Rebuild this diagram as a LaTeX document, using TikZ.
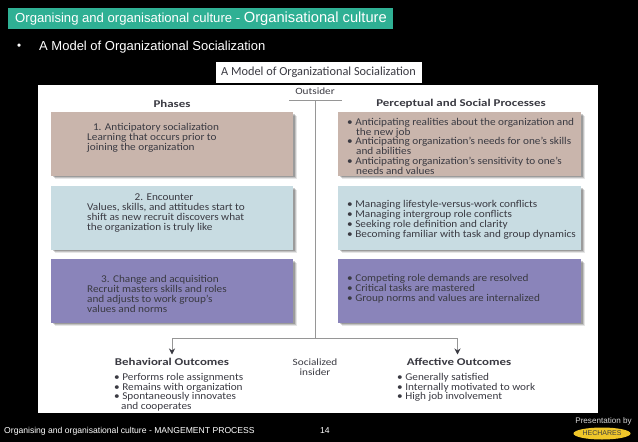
\documentclass[tikz,border=0pt]{standalone}
\usepackage{fontspec}
\setmainfont{Liberation Sans}
\newfontfamily\figfont[FakeStretch=1.08]{Carlito}
\newfontfamily\fighead[FakeStretch=1.24]{Carlito}
\newfontfamily\figsmall[FakeStretch=1.17]{Carlito}
\newfontfamily\titlefont{Carlito}
\usetikzlibrary{shadows,arrows.meta,shapes.geometric}
\definecolor{teal1}{HTML}{2FB094}
\definecolor{rosebox}{HTML}{C9B5AC}
\definecolor{bluebox}{HTML}{C8DCE2}
\definecolor{purplebox}{HTML}{8A84BA}
\definecolor{figtext}{HTML}{3A3A42}
\definecolor{linegray}{HTML}{969696}
\definecolor{logoyellow}{HTML}{EFC62A}
\tikzset{
  x=1pt,y=-1pt,
  phase/.style={anchor=north west,inner sep=0pt,minimum height=63.5pt,fill=#1,
    general shadow={shadow xshift=3.5pt,shadow yshift=-3.5pt,fill=black,opacity=.1},
    general shadow={shadow xshift=2.5pt,shadow yshift=-2.5pt,fill=black,opacity=.15},
    general shadow={shadow xshift=1.5pt,shadow yshift=-1.5pt,fill=black,opacity=.2}},
  ftext/.style={anchor=north west,inner sep=0pt,font=\figfont\fontsize{10.4}{9.75}\selectfont,text=figtext,align=left},
  fhead/.style={inner sep=0pt,font=\fighead\bfseries\fontsize{10.4}{10}\selectfont,text=figtext},
  conn/.style={draw=linegray,line width=.9pt},
  white1/.style={inner sep=0pt,text=white,anchor=west}
}
\begin{document}
\begin{tikzpicture}
\useasboundingbox (0,0) rectangle (638,442);
\fill[black] (0,0) rectangle (638,442);
% header
\node[anchor=north west,inner sep=0pt,minimum width=385pt,minimum height=21pt,fill=teal1] (bar) at (8,8) {};
\node[white1] (head) at (15,19) {\fontsize{13.1}{14}\selectfont Organising and organisational culture - \fontsize{14.7}{15}\selectfont Organisational culture};
\node[white1] (bul) at (17,47) {\fontsize{11.6}{12}\selectfont •};
\node[white1] (sub) at (39,47) {\fontsize{13}{14}\selectfont A Model of Organizational Socialization};
% panel
\node[anchor=north west,inner sep=0pt,minimum width=560pt,minimum height=328pt,fill=white] (panel) at (38,85) {};
\node[anchor=north west,inner sep=0pt,minimum width=206pt,minimum height=21pt,fill=white] (tbox) at (216,62) {};
\node[inner sep=0pt,anchor=west,text=figtext] (ttl) at (221,72.5) {\titlefont\fontsize{12.3}{13}\selectfont A Model of Organizational Socialization};
% column heads
\node[inner sep=0pt,text=figtext,font=\figsmall\fontsize{9.6}{10}\selectfont] (out) at (315,91) {Outsider};
\node[fhead] (ph) at (172,103.5) {Phases};
\node[fhead] (pp) at (461,103.5) {Perceptual and Social Processes};
% boxes
\node[phase=rosebox,minimum width=242pt] (a1) at (51,112) {};
\node[phase=bluebox,minimum width=242pt] (a2) at (51,186) {};
\node[phase=purplebox,minimum width=242pt] (a3) at (51,259) {};
\node[phase=rosebox,minimum width=243pt] (b1) at (338,112) {};
\node[phase=bluebox,minimum width=243pt] (b2) at (338,186) {};
\node[phase=purplebox,minimum width=243pt] (b3) at (338,259) {};
% left texts
\node[ftext,anchor=north] at (156,123.5) {1. Anticipatory socialization};
\node[ftext] at (87,133.5) {Learning that occurs prior to\\joining the organization};
\node[ftext,anchor=north] at (164,193.5) {2. Encounter};
\node[ftext] at (87,203.5) {Values, skills, and attitudes start to\\shift as new recruit discovers what\\the organization is truly like};
\node[ftext,anchor=north] at (160,275.5) {3. Change and acquisition};
\node[ftext] at (87,285.5) {Recruit masters skills and roles\\and adjusts to work group’s\\values and norms};
% right texts
\node[ftext] at (347,118) {• Anticipating realities about the organization and\\\hspace*{9pt}the new job\\• Anticipating organization’s needs for one’s skills\\\hspace*{9pt}and abilities\\• Anticipating organization’s sensitivity to one’s\\\hspace*{9pt}needs and values};
\node[ftext] at (347,200.5) {• Managing lifestyle-versus-work conflicts\\• Managing intergroup role conflicts\\• Seeking role definition and clarity\\• Becoming familiar with task and group dynamics};
\node[ftext] at (347,274.5) {• Competing role demands are resolved\\• Critical tasks are mastered\\• Group norms and values are internalized};
% outcomes
\node[fhead] (bo) at (172,362) {Behavioral Outcomes};
\node[ftext] (bl) at (114,373) {• Performs role assignments\\• Remains with organization\\• Spontaneously innovates\\\hspace*{7pt}and cooperates};
\node[fhead] (ao) at (459,362) {Affective Outcomes};
\node[ftext] (al) at (397,373) {• Generally satisfied\\• Internally motivated to work\\• High job involvement};
\node[inner sep=0pt,text=figtext,font=\figsmall\fontsize{9.6}{9.75}\selectfont,align=center] (ins) at (315,367) {Socialized\\insider};
% connectors
\coordinate (ol) at (289,100.5);
\coordinate (or) at (342,100.5);
\coordinate (ot) at (315,100.5);
\coordinate (j) at (315,338.5);
\coordinate (bt) at (172,354.5);
\coordinate (at) at (457.5,354.5);
\draw[conn] (ol) -- (or);
\draw[conn] (ot) -- (j);
\draw[conn,-{Stealth[length=6pt,width=6pt,color=figtext]}] (j) -| (bt);
\draw[conn,-{Stealth[length=6pt,width=6pt,color=figtext]}] (j) -| (at);
% footer
\node[white1] (foot) at (4,431) {\fontsize{8.6}{9}\selectfont Organising and organisational culture - MANGEMENT PROCESS};
\node[white1] (pg) at (320,431) {\fontsize{8.6}{9}\selectfont 14};
\node[inner sep=0pt,text=white!85!black,font=\fontsize{8.1}{9}\selectfont] (pb) at (603.5,421) {Presentation by};
\node[ellipse,inner sep=0pt,minimum width=57pt,minimum height=12pt,fill=logoyellow] (logo) at (602,433.5) {};
\node[inner sep=0pt,text=black!75,font=\fontsize{7}{8}\selectfont] (hech) at (logo.center) {HECHARES};
\end{tikzpicture}
\end{document}
